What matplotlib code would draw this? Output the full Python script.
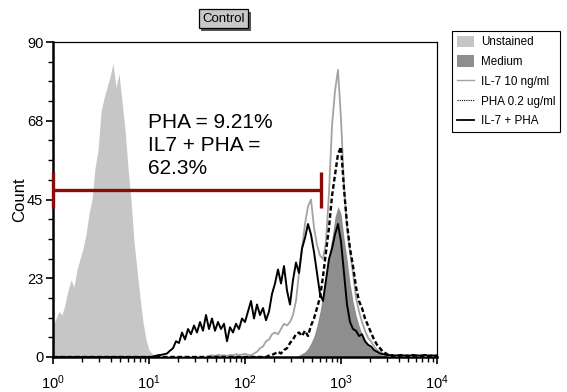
import numpy as np
import matplotlib
matplotlib.use('Agg')
import matplotlib.pyplot as plt
import matplotlib.patheffects as pe
from matplotlib.ticker import FixedLocator, LogLocator, NullFormatter, FixedFormatter
from matplotlib.patches import Patch
from matplotlib.lines import Line2D

plt.rcParams['font.family'] = ['Liberation Sans', 'DejaVu Sans']
plt.rcParams['mathtext.fontset'] = 'custom'
plt.rcParams['mathtext.rm'] = 'Liberation Sans'
plt.rcParams['mathtext.it'] = 'Liberation Sans:italic'
plt.rcParams['mathtext.bf'] = 'Liberation Sans:bold'

# ---- data: histogram channels (32 channels per decade, 10^0 .. 10^4) ----
CHANNELS_PER_DECADE = 32
N_CHANNELS = 129

unstained_first = 0
unstained = [9, 11, 13, 12, 15, 19, 22, 20, 25, 28, 31, 35, 41, 45, 54, 59, 70, 74,
             77, 80, 84, 77, 81, 73, 65, 54, 45, 33, 25, 17, 10, 5, 2, 1, 0.4]

medium_first = 82
medium = [0.5, 1, 1.5, 2.5, 4, 6, 9, 13, 18, 23, 29, 34, 40, 43, 41, 34, 28, 21, 16,
          12, 9, 6.5, 5, 3.5, 2.5, 2, 1.2, 0.8, 0.5, 0.3]

il7_first = 52
il7 = [0.3, 0.5, 0.3, 0.6, 0.4, 0.5, 0.3, 0.6, 0.5, 0.8, 0.6, 0.7, 0.9, 0.6,
       0.5, 1, 1.5, 2.5, 3, 4.5, 5, 6.5, 7, 6.5, 8, 9.5, 9, 10, 12, 16, 24, 31, 38, 43,
       45, 37, 32, 29, 28, 33, 47, 66, 76, 82, 68, 49, 37, 30, 24, 17, 13, 10, 7.5,
       5.5, 4.5, 3, 2, 1.5, 1, 0.6, 0.4]

pha_first = 72
pha = [0.4, 0.6, 1, 1.5, 1, 2, 2.5, 4, 5, 6.5, 7, 6, 7.5, 6, 9, 11, 14, 17, 23, 30, 37,
       46, 52, 58, 60, 48, 38, 31, 26, 20, 16, 14, 11, 9, 7, 5, 3.5, 2.5, 1.5, 1, 0.5]

il7pha_first = 34
il7pha = [0.3, 0.5, 0.6, 0.8, 1, 1.8, 2.5, 4.5, 4, 7, 5, 8, 6.5, 9, 7, 10, 7.5, 12,
          8, 11, 7.5, 10, 8, 9.5, 4.5, 8.5, 7, 9.5, 8, 11, 10, 13, 16, 11, 15, 12, 14,
          10.5, 13, 18, 21, 25, 21, 26, 19, 15, 22, 27, 24, 31, 34, 38, 35, 30, 24, 18,
          16, 22, 28, 31, 35, 38, 33, 24, 15, 10, 8, 7.5, 6, 6.5, 4.5, 3.5, 3, 2, 1.5,
          1, 0.8, 0.6, 0.5, 0.6, 0.4, 0.5, 0.6, 0.4, 0.5, 0.4, 0.6, 0.5, 0.4, 0.5, 0.6,
          0.4, 0.5, 0.4, 0.5]

series_labels = ['Unstained', 'Medium', 'IL-7 10 ng/ml', 'PHA 0.2 ug/ml', 'IL-7 + PHA']

ytick_values = [0, 22.5, 45, 67.5, 90]
ytick_labels = ['0', '23', '45', '68', '90']

gate_low, gate_high, gate_y, gate_cap = 1.0, 620.0, 47.7, 5.2
gate_text = 'PHA = 9.21%\nIL7 + PHA =\n62.3%'
title_text = 'Control'


def full(first, vals):
    y = np.zeros(N_CHANNELS)
    y[first:first + len(vals)] = vals
    return y


x = 10 ** (np.arange(N_CHANNELS) / CHANNELS_PER_DECADE)

fig = plt.figure(figsize=(5.67, 3.92), dpi=100)
ax = fig.add_axes([53 / 567, 1 - 357 / 392, 384 / 567, 315 / 392])

c_unst = '#c6c6c6'
c_med = '#8e8e8e'
c_il7 = '#a3a3a3'

ax.fill_between(x, 0, full(unstained_first, unstained), color=c_unst, lw=0, zorder=1)
ax.fill_between(x, 0, full(medium_first, medium), color=c_med, lw=0, zorder=2)
ax.plot(x, full(il7_first, il7), color=c_il7, lw=1.3, zorder=3)
ax.plot(x, full(pha_first, pha), color='black', lw=1.7, ls=(0, (2.0, 1.1)), zorder=4)
ax.plot(x, full(il7pha_first, il7pha), color='black', lw=1.4, zorder=5)

# gate
gc = '#8b0a0a'
ax.plot([gate_low, gate_high], [gate_y, gate_y], color=gc, lw=2.4, zorder=6, solid_capstyle='butt')
ax.plot([gate_low, gate_low], [gate_y - gate_cap, gate_y + gate_cap], color=gc, lw=2.4, zorder=6,
        solid_capstyle='butt', clip_on=False)
ax.plot([gate_high, gate_high], [gate_y - gate_cap, gate_y + gate_cap], color=gc, lw=2.4, zorder=6,
        solid_capstyle='butt')

ax.text((148 - 53) / 384, 1 - (113 - 42) / 315, gate_text, transform=ax.transAxes,
        ha='left', va='top', fontsize=15, linespacing=1.27, zorder=7)

ax.set_xscale('log')
ax.set_xlim(1, 1e4)
ax.set_ylim(0, 90)

ax.xaxis.set_major_locator(LogLocator(base=10, numticks=10))
ax.xaxis.set_minor_locator(LogLocator(base=10, subs=np.arange(2, 10), numticks=20))
ax.xaxis.set_minor_formatter(NullFormatter())
ax.yaxis.set_major_locator(FixedLocator(ytick_values))
ax.yaxis.set_major_formatter(FixedFormatter(ytick_labels))
ax.yaxis.set_minor_locator(FixedLocator(np.arange(0, 90.1, 5.625)))

ax.tick_params(axis='both', which='major', direction='out', length=5, width=1.2,
               labelsize=10.5, colors='black')
ax.tick_params(axis='both', which='minor', direction='out', length=3.5, width=1.0)
ax.tick_params(axis='x', which='major', pad=7)
ax.tick_params(axis='y', which='major', pad=2)

ax.spines['left'].set_linewidth(1.8)
ax.spines['bottom'].set_linewidth(1.8)
ax.spines['top'].set_linewidth(0.9)
ax.spines['right'].set_linewidth(0.9)

ax.set_ylabel('Count', fontsize=12)
ax.yaxis.set_label_coords((27 - 53) / 384, 0.5)

# title box with shadow
t = fig.text(223.5 / 567, 1 - 18.5 / 392, title_text, ha='center', va='center', fontsize=9.5,
             bbox=dict(boxstyle='square,pad=0.28', fc='#c8c8c8', ec='black', lw=0.9))
t.get_bbox_patch().set_path_effects([
    pe.SimplePatchShadow(offset=(2, -2), shadow_rgbFace='#555555', alpha=1.0),
    pe.Normal()])

handles = [
    Patch(facecolor=c_unst, edgecolor='none'),
    Patch(facecolor=c_med, edgecolor='none'),
    Line2D([], [], color=c_il7, lw=1.0),
    Line2D([], [], color='black', lw=0.8, ls=(0, (1, 1))),
    Line2D([], [], color='black', lw=1.3),
]
leg = fig.legend(handles, series_labels, loc='upper left',
                 bbox_to_anchor=(452 / 567, 1 - 31 / 392), fontsize=8.4,
                 frameon=True, fancybox=False, edgecolor='black', framealpha=1,
                 handlelength=1.5, handleheight=1.1, labelspacing=0.62,
                 handletextpad=0.6, borderpad=0.4, borderaxespad=0)
leg.get_frame().set_linewidth(0.8)

fig.savefig('out.png', dpi=100)
